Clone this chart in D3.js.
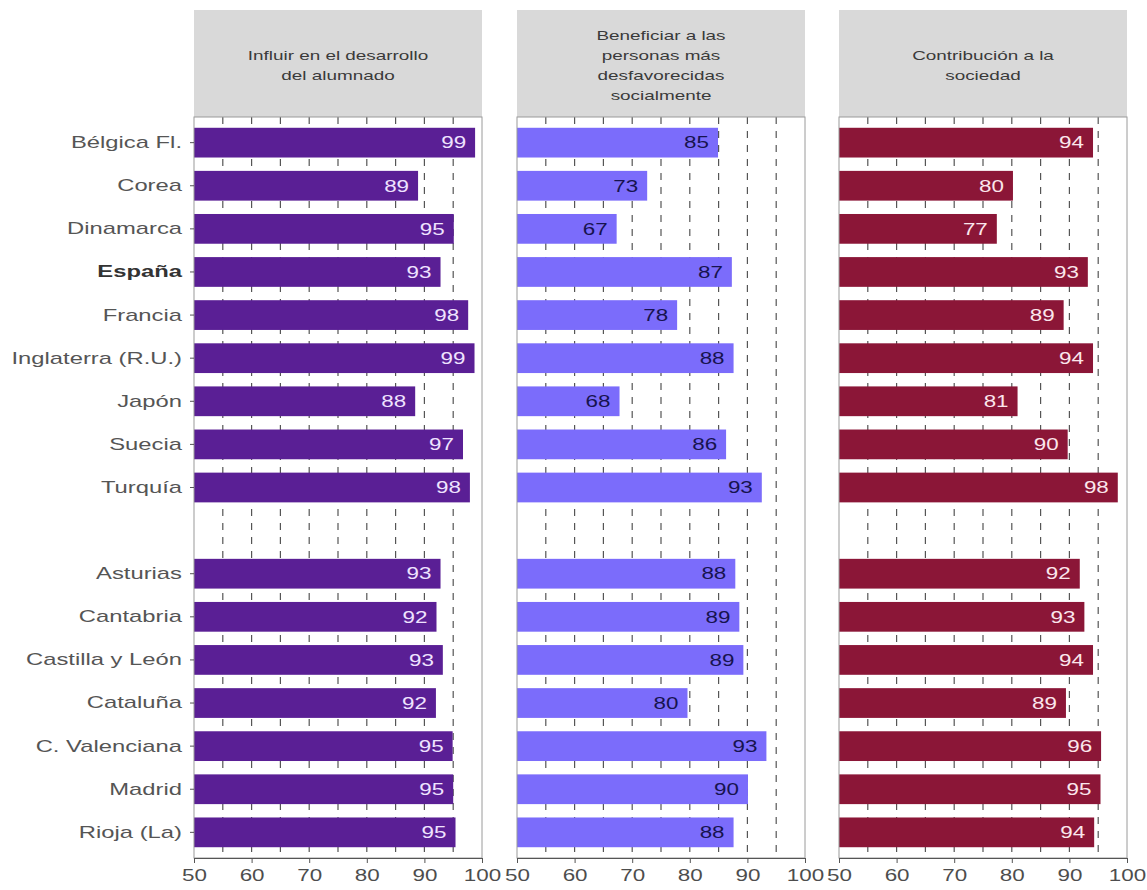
<!DOCTYPE html>
<html>
<head>
<meta charset="utf-8">
<script src="https://cdn.jsdelivr.net/npm/d3@7"></script>
<style>
  html, body { margin: 0; padding: 0; background: #ffffff; }
  svg { display: block; font-family: "Liberation Sans", Arial, sans-serif; }
</style>
</head>
<body>
<svg id="chart" width="1147" height="890"></svg>
<script>
// ---------------- DATA ----------------
const countries = ["Bélgica Fl.", "Corea", "Dinamarca", "España", "Francia", "Inglaterra (R.U.)", "Japón", "Suecia", "Turquía"];
const regions = ["Asturias", "Cantabria", "Castilla y León", "Cataluña", "C. Valenciana", "Madrid", "Rioja (La)"];
const panelTitles = [
  ["Influir en el desarrollo", "del alumnado"],
  ["Beneficiar a las", "personas más", "desfavorecidas", "socialmente"],
  ["Contribución a la", "sociedad"]
];
const desarrollo   = [98.8, 88.9, 95.1, 92.8, 97.6, 98.7, 88.4, 96.7, 97.9, 92.8, 92.1, 93.2, 92.0, 94.9, 95.0, 95.4];
const beneficiar   = [84.9, 72.6, 67.3, 87.3, 77.8, 87.6, 67.8, 86.3, 92.5, 87.9, 88.6, 89.3, 79.6, 93.3, 90.1, 87.6];
const contribucion = [94.1, 80.2, 77.4, 93.2, 89.0, 94.1, 81.0, 89.7, 98.4, 91.8, 92.6, 94.1, 89.4, 95.5, 95.4, 94.3];
const xTicks = [50, 60, 70, 80, 90, 100];
const gridValues = [55, 60, 65, 70, 75, 80, 85, 90, 95];

// ---------------- LAYOUT ----------------
const SX = 1.4; // horizontal text stretch seen in the reference
const spacer = "__gap__";
const rows = countries.concat([spacer], regions);
const labels = countries.concat(regions);
const series = [desarrollo, beneficiar, contribucion];
const barColors = ["#5a1f95", "#7b6cfb", "#8b1637"];
const textColors = ["#efe3ff", "#17134f", "#fbe6ec"];

const panelX = [194, 517, 839];
const panelW = 288;
const stripTop = 10, panelTop = 117, panelBottom = 858;

const svg = d3.select("#chart");

const y = d3.scaleBand()
  .domain(rows)
  .range([panelTop, panelBottom])
  .paddingInner(0.31)
  .paddingOuter(0.25);

series.forEach((vals, i) => {
  const x = d3.scaleLinear().domain([50, 100]).range([panelX[i], panelX[i] + panelW]);
  const g = svg.append("g");

  // strip
  g.append("rect")
    .attr("x", x(50)).attr("y", stripTop)
    .attr("width", x(100) - x(50)).attr("height", panelTop - stripTop)
    .attr("fill", "#d9d9d9");
  const lines = panelTitles[i];
  const lh = 20;
  const cy = (stripTop + panelTop) / 2 + 2;
  lines.forEach((t, k) => {
    g.append("text")
      .attr("transform", `translate(${(x(50) + x(100)) / 2},${cy + (k - (lines.length - 1) / 2) * lh}) scale(${SX},1)`)
      .attr("text-anchor", "middle")
      .attr("dy", "0.35em")
      .attr("font-size", 13.5)
      .attr("fill", "#3a3a3a")
      .text(t);
  });

  // panel background
  g.append("rect")
    .attr("x", x(50)).attr("y", panelTop)
    .attr("width", x(100) - x(50)).attr("height", panelBottom - panelTop)
    .attr("fill", "#fff");

  // dashed grid
  g.selectAll("line.grid").data(gridValues).join("line")
    .attr("class", "grid")
    .attr("x1", d => x(d)).attr("x2", d => x(d))
    .attr("y1", panelTop).attr("y2", panelBottom)
    .attr("stroke", "#555").attr("stroke-width", 1.2)
    .attr("stroke-dasharray", "7,7");

  // bars
  const data = labels.map((c, j) => ({ c, v: vals[j] }));
  g.selectAll("rect.bar").data(data).join("rect")
    .attr("class", "bar")
    .attr("x", x(50))
    .attr("y", d => y(d.c))
    .attr("width", d => x(d.v) - x(50))
    .attr("height", y.bandwidth())
    .attr("fill", barColors[i]);

  // value labels
  g.selectAll("text.val").data(data).join("text")
    .attr("class", "val")
    .attr("transform", d => `translate(${x(d.v) - 9},${y(d.c) + y.bandwidth() / 2}) scale(${SX},1)`)
    .attr("text-anchor", "end")
    .attr("dy", "0.36em")
    .attr("font-size", 16)
    .attr("fill", textColors[i])
    .text(d => d3.format(".0f")(d.v));

  // border
  g.append("rect")
    .attr("x", x(50)).attr("y", panelTop)
    .attr("width", x(100) - x(50)).attr("height", panelBottom - panelTop)
    .attr("fill", "none").attr("stroke", "#9a9a9a").attr("stroke-width", 1);

  // x axis
  const ax = g.append("g")
    .attr("transform", `translate(0,${panelBottom})`)
    .call(d3.axisBottom(x).tickValues(xTicks).tickSize(5).tickSizeOuter(0).tickFormat(d3.format("d")));
  ax.select(".domain").attr("stroke", "#555");
  ax.selectAll(".tick line").attr("stroke", "#555");
  ax.selectAll(".tick text")
    .attr("font-size", 16)
    .attr("fill", "#4d4d4d")
    .attr("font-family", "'Liberation Sans', Arial, sans-serif")
    .attr("y", 12)
    .attr("x", 0)
    .attr("transform", `scale(${SX},1)`);

  // y axis on first panel only
  if (i === 0) {
    const ay = svg.append("g")
      .attr("transform", `translate(${x(50)},0)`)
      .call(d3.axisLeft(y).tickSize(4).tickSizeOuter(0));
    ay.select(".domain").remove();
    ay.selectAll(".tick").filter(d => d === spacer).remove();
    ay.selectAll(".tick line").attr("stroke", "#555");
    ay.selectAll(".tick text")
      .attr("font-size", 17)
      .attr("font-family", "'Liberation Sans', Arial, sans-serif")
      .attr("fill", d => d === "España" ? "#333" : "#555")
      .attr("font-weight", d => d === "España" ? "bold" : "normal")
      .attr("x", -12 / SX)
      .attr("transform", `scale(${SX},1)`);
  }
});
</script>
</body>
</html>
